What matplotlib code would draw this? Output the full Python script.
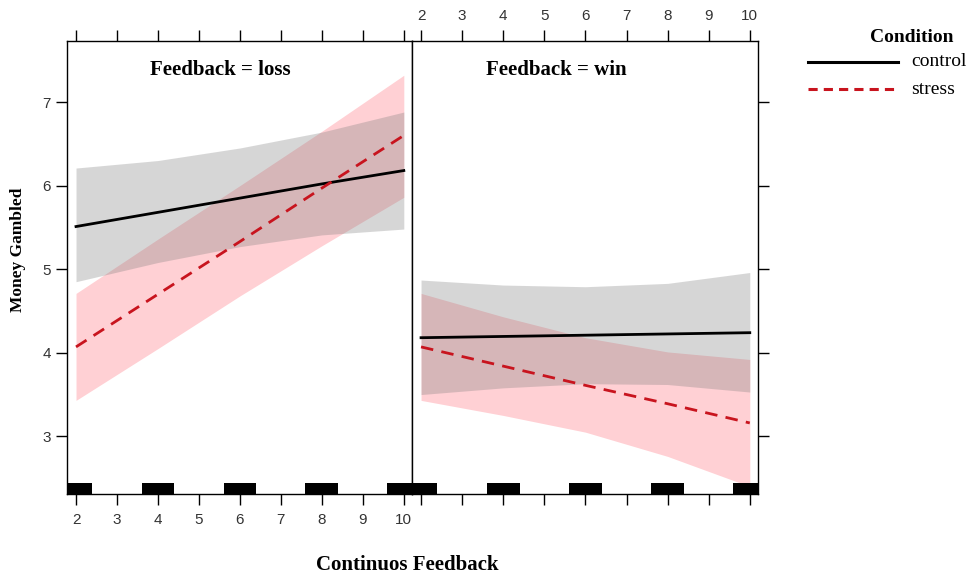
import matplotlib
matplotlib.use("Agg")
import matplotlib.pyplot as plt
import numpy as np

x = [2, 4, 6, 8, 10]
# Feedback = loss
loss_control_fit = [5.51, 5.68, 5.85, 6.02, 6.18]
loss_control_up = [6.21, 6.30, 6.45, 6.64, 6.88]
loss_control_lo = [4.85, 5.08, 5.27, 5.41, 5.48]
loss_stress_fit = [4.07, 4.70, 5.33, 5.97, 6.60]
loss_stress_up = [4.71, 5.36, 6.00, 6.65, 7.32]
loss_stress_lo = [3.43, 4.05, 4.68, 5.28, 5.86]
# Feedback = win
win_control_fit = [4.18, 4.195, 4.21, 4.225, 4.24]
win_control_up = [4.87, 4.81, 4.79, 4.83, 4.96]
win_control_lo = [3.50, 3.58, 3.63, 3.62, 3.53]
win_stress_fit = [4.07, 3.84, 3.61, 3.39, 3.16]
win_stress_up = [4.71, 4.43, 4.18, 4.01, 3.92]
win_stress_lo = [3.43, 3.25, 3.05, 2.76, 2.40]
rug_x = [2, 4, 6, 8, 10]
xticks = [2, 3, 4, 5, 6, 7, 8, 9, 10]
yticks = [3, 4, 5, 6, 7]

W, H = 973, 577
fig = plt.figure(figsize=(W / 100, H / 100), dpi=100)

def ax_at(l, t, r, b):
    return fig.add_axes([l / W, 1 - b / H, (r - l) / W, (b - t) / H])

axL = ax_at(67, 41, 412, 494)
axR = ax_at(412, 41, 758, 494)

serif = "Liberation Serif"
sans = "Liberation Sans"
gray_fill = "#7a7a7a"
pink_fill = "#ffd0d4"
red = "#c8141e"

panels = [
    (axL, "Feedback = loss", loss_control_fit, loss_control_lo, loss_control_up,
     loss_stress_fit, loss_stress_lo, loss_stress_up, 220),
    (axR, "Feedback = win", win_control_fit, win_control_lo, win_control_up,
     win_stress_fit, win_stress_lo, win_stress_up, 556),
]

for ax, title, cf, cl, cu, sf, sl, su, tx in panels:
    ax.fill_between(x, sl, su, color=pink_fill, linewidth=0)
    ax.fill_between(x, cl, cu, color=gray_fill, alpha=0.3, linewidth=0)
    ax.plot(x, cf, color="black", lw=2)
    ax.plot(x, sf, color=red, lw=2, ls=(0, (4.5, 3)))
    for r in rug_x:
        ax.fill_between([r - 0.4, r + 0.4], [2.31] * 2, [2.44] * 2,
                        color="black", linewidth=0)
    ax.set_xlim(1.78, 10.2)
    ax.set_ylim(2.31, 7.73)
    for s in ax.spines.values():
        s.set_linewidth(1.0)
    fig.text(tx / W, 1 - 70 / H, title, family=serif, fontweight="bold",
             fontsize=15, ha="center", va="center")

# ticks
axL.set_xticks(xticks)
axL.set_yticks(yticks)
axL.tick_params(axis="x", direction="out", length=8, width=1, top=True,
                bottom=True, labeltop=False, labelbottom=True, labelsize=11,
                labelcolor="#333333", pad=6)
axL.tick_params(axis="y", direction="out", length=8, width=1, left=True,
                right=False, labelleft=True, labelsize=11,
                labelcolor="#333333")
axR.set_xticks(xticks)
axR.set_yticks(yticks)
axR.tick_params(axis="x", direction="out", length=8, width=1, top=True,
                bottom=True, labeltop=True, labelbottom=False, labelsize=11,
                labelcolor="#333333", pad=5)
axR.tick_params(axis="y", direction="out", length=8, width=1, left=False,
                right=True, labelleft=False, labelright=False)
for ax in (axL, axR):
    for lab in ax.get_xticklabels() + ax.get_yticklabels():
        lab.set_family(sans)

fig.text(18 / W, 1 - 250 / H, "Money Gambled", family=serif, fontweight="bold",
         fontsize=12.5, rotation=90, ha="center", va="center")
fig.text(407 / W, 1 - 565 / H, "Continuos Feedback", family=serif,
         fontweight="bold", fontsize=15, ha="center", va="center")

# legend
fig.text(912 / W, 1 - 38 / H, "Condition", family=serif, fontweight="bold",
         fontsize=14, ha="center", va="center")
fig.add_artist(plt.Line2D([808 / W, 898 / W], [1 - 62 / H, 1 - 62 / H],
                          color="black", lw=2.2))
fig.add_artist(plt.Line2D([808 / W, 898 / W], [1 - 89 / H, 1 - 89 / H],
                          color=red, lw=2.2, ls=(0, (3, 2))))
fig.text(911 / W, 1 - 62 / H, "control", family=serif, fontsize=14,
         ha="left", va="center")
fig.text(911 / W, 1 - 89 / H, "stress", family=serif, fontsize=14,
         ha="left", va="center")

fig.savefig("out.png", dpi=100)
